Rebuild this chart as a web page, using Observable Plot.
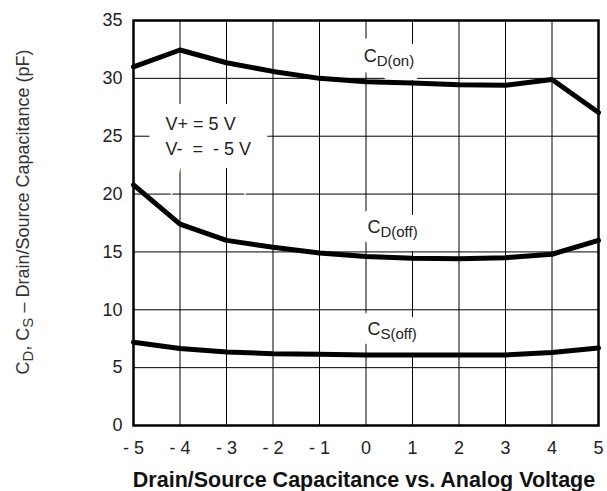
<!DOCTYPE html>
<html>
<head>
<meta charset="utf-8">
<script src="https://cdn.jsdelivr.net/npm/d3@7"></script>
<script src="https://cdn.jsdelivr.net/npm/@observablehq/plot@0.6"></script>
<style>
  html, body { margin: 0; padding: 0; background: #fff; }
  svg { display: block; }
</style>
</head>
<body>
<div id="chart"></div>
<script>
// ---- data ----
const voltage = [-5, -4, -3, -2, -1, 0, 1, 2, 3, 4, 5];
const cdOn  = [31.0, 32.45, 31.35, 30.6, 30.0, 29.7, 29.6, 29.45, 29.4, 29.9, 27.05];
const cdOff = [20.8, 17.4, 16.0, 15.4, 14.9, 14.6, 14.45, 14.4, 14.5, 14.8, 16.0];
const csOff = [7.2, 6.65, 6.35, 6.2, 6.15, 6.1, 6.1, 6.1, 6.1, 6.3, 6.7];
const xTicks = [-5, -4, -3, -2, -1, 0, 1, 2, 3, 4, 5];
const yTicks = [0, 5, 10, 15, 20, 25, 30, 35];
const seriesNames = ["C_{D(on)}", "C_{D(off)}", "C_{S(off)}"];
const labelX = [-0.05, 0.03, 0.03];
const labelY = [31.45, 16.6, 7.8];
const condText = "V+ = 5 V\nV-  =  - 5 V";
const condX = -4.31, condY = 23.4;
const xTitle = "Drain/Source Capacitance vs. Analog Voltage";
const yTitle = "C_{D}, C_{S} – Drain/Source Capacitance (pF)";

const seriesValues = [cdOn, cdOff, csOff];
const rows = seriesValues.flatMap((vals, i) =>
  vals.map((v, j) => ({series: seriesNames[i], x: voltage[j], y: v})));
const labels = seriesNames.map((s, i) => ({text: s, x: labelX[i], y: labelY[i]}));

const font = "Liberation Sans, Arial, Helvetica, sans-serif";

const chart = Plot.plot({
  width: 607,
  height: 491,
  marginLeft: 133,
  marginRight: 9,
  marginTop: 20,
  marginBottom: 66,
  style: {fontFamily: font, fontSize: "18px", color: "#222", background: "#fff"},
  x: {domain: [-5, 5], ticks: xTicks, label: null},
  y: {domain: [0, 35], ticks: yTicks, label: null},
  marks: [
    Plot.gridX(xTicks, {stroke: "#000", strokeOpacity: 1, strokeWidth: 1}),
    Plot.gridY(yTicks, {stroke: "#000", strokeOpacity: 1, strokeWidth: 1}),
    // white boxes behind annotations (interrupting grid)
    Plot.text(labels, {x: "x", y: "y", text: "text", textAnchor: "start", lineAnchor: "bottom",
      fontSize: 18, fill: "white", stroke: "white", strokeWidth: 22, strokeLinejoin: "miter", className: "sublabel"}),
    Plot.text([condText], {x: () => condX, y: () => condY, text: d => d, textAnchor: "start", lineAnchor: "bottom",
      lineHeight: 1.4, fontSize: 18, fill: "white", stroke: "white", strokeWidth: 26, strokeLinejoin: "miter"}),
    Plot.line(rows, {x: "x", y: "y", z: "series", stroke: "#000", strokeWidth: 5, strokeLinejoin: "round"}),
    Plot.frame({stroke: "#000", strokeWidth: 2.5}),
    Plot.text(labels, {x: "x", y: "y", text: "text", textAnchor: "start", lineAnchor: "bottom",
      fontSize: 18, fill: "#222", className: "sublabel"}),
    Plot.text([condText], {x: () => condX, y: () => condY, text: d => d, textAnchor: "start", lineAnchor: "bottom",
      lineHeight: 1.4, fontSize: 18, fill: "#222"}),
    Plot.axisX(xTicks, {tickSize: 0, tickPadding: 16, fontSize: 18, fill: "#222",
      tickFormat: d => d < 0 ? "- " + Math.abs(d) : String(d), label: null}),
    Plot.axisY(yTicks, {tickSize: 0, tickPadding: 11, fontSize: 18, fill: "#222", label: null}),
    Plot.text([xTitle], {frameAnchor: "bottom", dx: -2, dy: 61, text: d => d, lineAnchor: "bottom", textAnchor: "middle",
      fontSize: 21.5, fontWeight: "bold", fill: "#111"}),
    Plot.text([yTitle], {frameAnchor: "left", dx: -105, dy: -11, rotate: -90, text: d => d,
      textAnchor: "middle", lineAnchor: "bottom", fontSize: 18, fill: "#333", className: "sublabel"})
  ]
});

// convert "_{...}" into subscript tspans
d3.select(chart).selectAll(".sublabel text").each(function() {
  const t = d3.select(this);
  const s = t.text();
  if (!s.includes("_{")) return;
  t.text(null);
  const parts = s.split(/(_\{[^}]*\})/).filter(p => p.length);
  let shifted = false;
  for (const p of parts) {
    const m = p.match(/^_\{(.*)\}$/);
    if (m) {
      t.append("tspan").attr("font-size", "15px").attr("dy", shifted ? 0 : 4).text(m[1]);
      shifted = true;
    } else {
      t.append("tspan").attr("dy", shifted ? -4 : 0).text(p);
      shifted = false;
    }
  }
});

document.getElementById("chart").appendChild(chart);
</script>
</body>
</html>
